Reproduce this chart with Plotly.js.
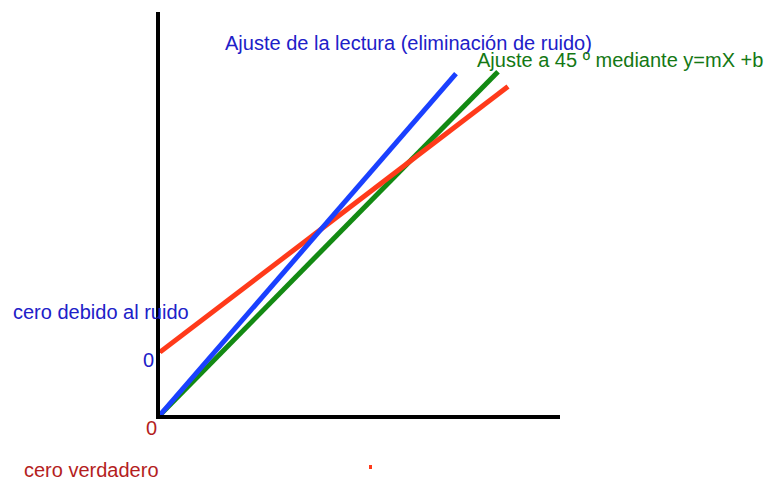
<!DOCTYPE html>
<html>
<head>
<meta charset="utf-8">
<script src="https://cdn.plot.ly/plotly-3.0.1.min.js"></script>
<style>html,body{margin:0;padding:0;background:#fff;}#chart{width:767px;height:480px;}</style>
</head>
<body>
<div id="chart"></div>
<script>
// Data (arbitrary units: x axis 0..10, y axis 0..10)
const greenX = [0, 8.45];
const greenY = [0, 8.52];
const redX = [0, 8.7];
const redY = [1.56, 8.15];
const blueX = [0, 7.4];
const blueY = [0, 8.47];

const labels = {
  blueTitle: "Ajuste de la lectura (eliminación de ruido)",
  greenTitle: "Ajuste a 45 º mediante y=mX +b",
  noiseZero: "cero debido al ruido",
  trueZero: "cero verdadero",
  zero: "0"
};

const W = 767, H = 480;
const L = 160, R = 207, T = 12, B = 65;
const pw = W - L - R, ph = H - T - B;
function px(x) { return (x - L) / pw; }
function py(y) { return (H - B - y) / ph; }

const font = "Liberation Sans, Arial, Helvetica, sans-serif";
const blueText = "#2020c8";
const greenText = "#147814";
const redText = "#b41e1e";

const traces = [
  {x: greenX, y: greenY, mode: "lines", line: {color: "#138a13", width: 5}, hoverinfo: "skip"},
  {x: redX, y: redY, mode: "lines", line: {color: "#ff3a1a", width: 5}, hoverinfo: "skip"},
  {x: blueX, y: blueY, mode: "lines", line: {color: "#1a40ff", width: 5}, hoverinfo: "skip"}
];

function ann(text, x, y, color, anchor) {
  return {text: text, xref: "paper", yref: "paper", x: px(x), y: py(y),
    xanchor: anchor || "left", yanchor: "middle", showarrow: false,
    font: {family: font, size: 20, color: color}};
}

const layout = {
  width: W, height: H,
  margin: {l: L, r: R, t: T, b: B, pad: 0},
  paper_bgcolor: "#fff", plot_bgcolor: "#fff",
  showlegend: false,
  xaxis: {range: [0, 10], showline: true, linecolor: "#000", linewidth: 4, showgrid: false,
    zeroline: false, showticklabels: false, ticks: "", fixedrange: true},
  yaxis: {range: [0, 10], showline: true, linecolor: "#000", linewidth: 4, showgrid: false,
    zeroline: false, showticklabels: false, ticks: "", fixedrange: true},
  annotations: [
    ann(labels.blueTitle, 223, 43, blueText),
    ann(labels.greenTitle, 475, 60, greenText),
    ann(labels.noiseZero, 11, 312, blueText),
    ann(labels.zero, 148, 360, blueText, "center"),
    ann(labels.zero, 151, 428, redText, "center"),
    ann(labels.trueZero, 22, 470, redText)
  ],
  shapes: [
    {type: "rect", xref: "paper", yref: "paper", x0: px(369), x1: px(372), y0: py(465), y1: py(469),
     fillcolor: "#ff3a1a", line: {width: 0}}
  ]
};

Plotly.newPlot("chart", traces, layout, {displayModeBar: false, staticPlot: true});
</script>
</body>
</html>
